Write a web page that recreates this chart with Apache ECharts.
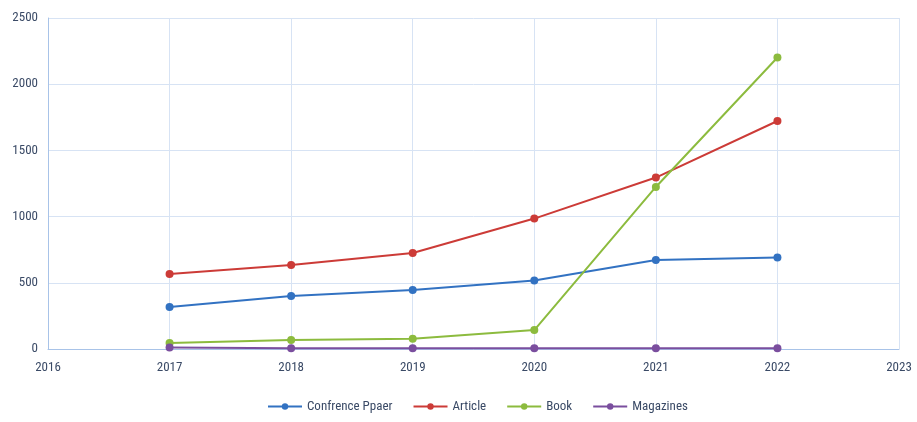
<!DOCTYPE html>
<html><head><meta charset="utf-8">
<script src="https://cdn.jsdelivr.net/npm/echarts@6/dist/echarts.min.js"></script>
<style>html,body{margin:0;padding:0;background:#fff}#c{width:917px;height:422px}</style>
</head><body><div id="c"></div>
<script>
const years = [2017, 2018, 2019, 2020, 2021, 2022];
const conference = [318, 400, 446, 518, 672, 692];
const article = [566, 634, 725, 985, 1295, 1722];
const book = [45, 68, 78, 143, 1224, 2202];
const magazines = [12, 6, 6, 5, 5, 5];
const names = ['Confrence Ppaer', 'Article', 'Book', 'Magazines'];
const colors = ['#3272C2', '#CC3B37', '#8CBB3E', '#7A4E9E'];
const font = '"Liberation Sans Narrow", "Roboto Condensed", "Liberation Sans", sans-serif';

const mk = (name, vals, color) => ({
  name, type: 'line', data: years.map((y, i) => [y, vals[i]]),
  symbol: 'circle', symbolSize: 8,
  lineStyle: { width: 2, color }, itemStyle: { color },
  emphasis: { disabled: true }
});

const chart = echarts.init(document.getElementById('c'));
chart.setOption({
  animation: false,
  color: colors,
  grid: { left: 48, right: 18, top: 18, bottom: 73, containLabel: false },
  legend: {
    bottom: 4, left: 262, itemWidth: 34, itemHeight: 8, itemGap: 20,
    textStyle: { color: '#3A4A66', fontSize: 13, fontFamily: font },
    data: names
  },
  xAxis: {
    type: 'value', min: 2016, max: 2023, interval: 1,
    axisLine: { show: true, lineStyle: { color: '#A8C3E8' } },
    axisTick: { show: false },
    splitLine: { show: true, lineStyle: { color: '#D7E3F4' } },
    axisLabel: { color: '#3A4A66', fontSize: 13, fontFamily: font, margin: 12, formatter: v => String(v) }
  },
  yAxis: {
    type: 'value', min: 0, max: 2500, interval: 500,
    axisLine: { show: true, lineStyle: { color: '#A8C3E8' } },
    axisTick: { show: false },
    splitLine: { show: true, lineStyle: { color: '#D7E3F4' } },
    axisLabel: { color: '#3A4A66', fontSize: 13, fontFamily: font, margin: 10, formatter: v => String(v) }
  },
  series: [
    mk(names[0], conference, colors[0]),
    mk(names[1], article, colors[1]),
    mk(names[2], book, colors[2]),
    mk(names[3], magazines, colors[3])
  ]
});
</script></body></html>
